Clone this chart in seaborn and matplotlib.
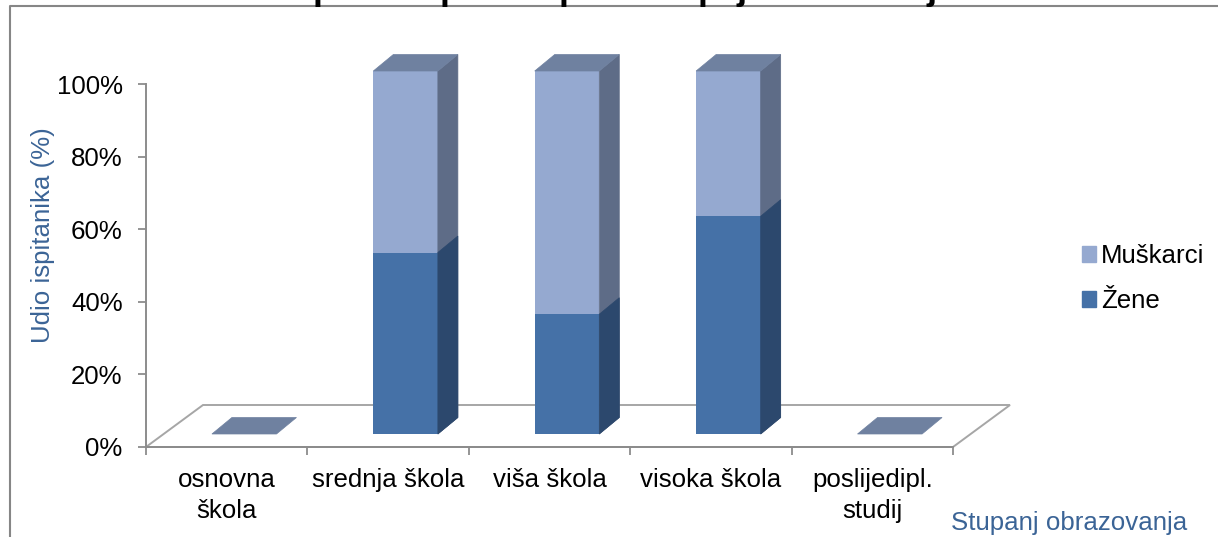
import matplotlib
matplotlib.use('Agg')
import matplotlib.pyplot as plt
import seaborn as sns
from matplotlib.lines import Line2D
from matplotlib.patches import Patch, Polygon
from matplotlib.transforms import Affine2D, IdentityTransform

# podaci (udio u %)
kategorije = ['osnovna\nškola', 'srednja škola', 'viša škola', 'visoka škola', 'poslijedipl.\nstudij']
zene = [0, 50, 33, 60, 0]
muskarci = [0, 50, 67, 40, 0]
y_ticks = [0, 20, 40, 60, 80, 100]

# naslov je u originalu odrezan, vide se samo repovi slova
naslov_slova = ['p', 'p', 'p', 'p', 'j', 'j']
naslov_x = [313, 440, 559, 698, 737, 927]

W, H = 1218, 537
DX, DY = 20, 16.5      # dubina 3D stupca
OFF_X, OFF_Y = 17.5, 13  # pomak prednje plohe stupca od osi

SVIJETLA = '#95A9D0'
SVIJETLA_BOK = '#5E6C87'
TAMNA = '#4571A7'
TAMNA_BOK = '#2C486D'
VRH = '#6F81A0'
SIVA = '#8C8C8C'
PLAVA = '#3B6496'

sns.set_theme(style='white')
plt.rcParams['font.family'] = ['Liberation Sans', 'DejaVu Sans']
plt.rcParams['font.size'] = 18.6

fig = plt.figure(figsize=(W / 100, H / 100), dpi=100)
fig.patch.set_facecolor('white')
ax = fig.add_axes([146 / W, (H - 447) / H, 807 / W, 363 / H])

ukupno = [z + m for z, m in zip(zene, muskarci)]
sns.barplot(x=kategorije, y=ukupno, color=SVIJETLA, width=0.4, saturation=1, ax=ax, zorder=3)
n = len(ax.patches)
sns.barplot(x=kategorije, y=zene, color=TAMNA, width=0.4, saturation=1, ax=ax, zorder=4)

ax.set_xlim(-0.5, len(kategorije) - 0.5)
ax.set_ylim(0, 100)
fig.canvas.draw()

pomak = Affine2D().translate(OFF_X, OFF_Y)
for p in ax.patches:
    p.set_transform(p.get_data_transform() + pomak)
    p.set_clip_on(False)
    p.set_linewidth(0)


def ploha(tocke, boja, z):
    ax.add_patch(Polygon(tocke, closed=True, facecolor=boja, edgecolor=boja, linewidth=0.5,
                         transform=IdentityTransform(), clip_on=False, zorder=z))


def u_piksele(x, y):
    return ax.transData.transform((x, y)) + (OFF_X, OFF_Y)


# bocne i gornje plohe
for i, p in enumerate(list(ax.patches)):
    x0, x1 = p.get_x(), p.get_x() + p.get_width()
    gore = p.get_height()
    if gore > 0:
        d0 = u_piksele(x1, 0)
        d1 = u_piksele(x1, gore)
        ploha([d0, d1, d1 + (DX, DY), d0 + (DX, DY)], SVIJETLA_BOK if i < n else TAMNA_BOK, 3 if i < n else 4)
    if i < n:
        l1 = u_piksele(x0, gore)
        d1 = u_piksele(x1, gore)
        ploha([l1, d1, d1 + (DX, DY), l1 + (DX, DY)], VRH, 5)

# pod grafa
a, b = ax.transData.transform((-0.5, 0)), ax.transData.transform((len(kategorije) - 0.5, 0))
ax.add_patch(Polygon([a, b, b + (57, 42), a + (57, 42)], closed=True, facecolor='white', edgecolor='#A6A6A6',
                     linewidth=1.4, transform=IdentityTransform(), clip_on=False, zorder=1))

# osi
sns.despine(ax=ax, top=True, right=True)
for s in ['left', 'bottom']:
    ax.spines[s].set_color(SIVA)
    ax.spines[s].set_linewidth(1.4)
    ax.spines[s].set_zorder(2)

ax.set_yticks(y_ticks)
ax.set_yticklabels([f'{t}%' for t in y_ticks], color='black')
ax.tick_params(axis='y', left=True, length=5.8, width=1.3, color=SIVA, pad=11, labelsize=18.6)
ax.set_xticks([i - 0.5 for i in range(len(kategorije) + 1)])
ax.set_xticklabels([])
ax.set_xticks(range(len(kategorije)), labels=kategorije, minor=True)
ax.tick_params(axis='x', which='major', bottom=True, length=5.8, width=1.3, color=SIVA)
ax.tick_params(axis='x', which='minor', bottom=False, length=0, pad=15, labelcolor='black', labelsize=18.6)
for t in ax.get_xticklabels(minor=True):
    t.set_linespacing(1.4)

ax.set_ylabel('Udio ispitanika (%)', color=PLAVA, fontsize=18.6)
ax.yaxis.set_label_coords(-0.113, 0.584)
ax.set_xlabel('Stupanj obrazovanja', color=PLAVA, fontsize=18.6)
ax.xaxis.set_label_coords(1.144, -0.176)

ax.legend(handles=[Patch(color=SVIJETLA, label='Muškarci'), Patch(color=TAMNA, label='Žene')],
          loc='upper left', bbox_to_anchor=(1082 / W, (H - 244) / H), bbox_transform=fig.transFigure,
          frameon=False, fontsize=18.6, handlelength=0.54, handleheight=0.54, handletextpad=0.2,
          labelspacing=0.82, borderpad=0, borderaxespad=0, labelcolor='black')

# okvir
fig.add_artist(Line2D([10 / W, 10 / W, 1], [0, (H - 6) / H, (H - 6) / H], color='#868686', linewidth=1.5))

for slovo, x in zip(naslov_slova, naslov_x):
    fig.text(x / W, (H + 1) / H, slovo, fontsize=26, fontweight='bold', color='black', ha='left', va='baseline')

fig.savefig('out.png', dpi=100)
